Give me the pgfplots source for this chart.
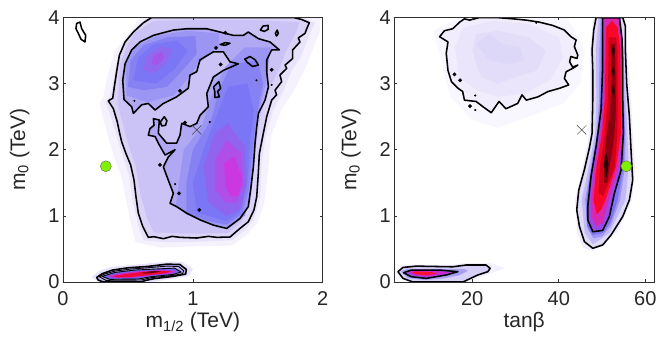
\documentclass[border=0pt]{standalone}
\usepackage{pgfplots}
\usepackage{pgfplotstable}
\pgfplotsset{compat=1.18}
\usepackage{fontspec}
\setmainfont{Liberation Sans}
\definecolor{framec}{HTML}{303030}
\definecolor{green0}{HTML}{80F000}

\pgfplotstableread{
x y
0.683 4.0
0.619 3.92
0.542 3.78
0.478 3.63
0.434 3.43
0.413 3.18
0.395 2.95
0.383 2.78
0.349 2.74
0.388 2.62
0.418 2.42
0.434 2.27
0.452 2.12
0.485 1.94
0.521 1.77
0.547 1.54
0.562 1.29
0.580 1.04
0.614 0.84
0.657 0.675
0.700 0.685
0.773 0.655
0.840 0.69
0.901 0.675
1.030 0.665
1.120 0.69
1.184 0.675
1.286 0.68
1.363 0.81
1.427 0.91
1.471 1.09
1.492 1.29
1.504 1.64
1.512 1.94
1.543 2.25
1.569 2.50
1.607 2.75
1.645 2.83
1.633 2.90
1.684 3.03
1.671 3.13
1.723 3.23
1.710 3.28
1.769 3.38
1.769 3.51
1.825 3.63
1.812 3.69
1.864 3.76
1.877 3.83
1.897 3.92
1.838 3.97
1.774 4.0
}\LOuter
\pgfplotstableread{
x y
0.470 2.76
0.460 3.05
0.478 3.30
0.529 3.51
0.593 3.63
0.696 3.73
0.850 3.81
0.953 3.83
1.107 3.83
1.209 3.78
1.312 3.73
1.389 3.73
1.427 3.78
1.505 3.68
1.594 3.63
1.666 3.51
1.607 3.51
1.569 3.36
1.569 3.18
1.582 2.95
1.556 2.75
1.505 2.55
1.492 2.35
1.479 2.10
1.466 1.74
1.445 1.39
1.427 1.14
1.363 0.96
1.261 0.81
1.158 0.86
1.055 0.94
0.953 1.04
0.875 1.14
0.824 1.19
0.850 1.34
0.811 1.54
0.773 1.74
0.811 1.89
0.863 2.0
0.786 1.92
0.734 2.10
0.709 2.20
0.657 2.22
0.670 2.32
0.701 2.37
0.696 2.47
0.742 2.45
0.734 2.25
0.798 2.10
0.875 2.10
0.901 2.22
0.914 2.40
0.978 2.35
1.030 2.40
1.055 2.52
1.119 2.65
1.107 2.85
1.158 3.10
1.235 3.20
1.350 3.30
1.286 3.33
1.235 3.48
1.158 3.48
1.055 3.36
1.030 3.18
0.978 3.13
0.965 2.93
0.875 2.80
0.773 2.70
0.709 2.60
0.657 2.70
0.606 2.68
0.542 2.55
0.529 2.65
}\LInner
\pgfplotstableread{
x y
0.26 0.07
0.30 0.125
0.38 0.18
0.50 0.215
0.65 0.235
0.80 0.27
0.90 0.265
0.95 0.19
0.945 0.12
0.85 0.085
0.70 0.05
0.63 0.02
0.60 0
0.31 0
0.27 0.03
}\LBlobA
\pgfplotstableread{
x y
0.28 0.08
0.32 0.12
0.40 0.165
0.52 0.195
0.65 0.215
0.80 0.24
0.89 0.235
0.93 0.17
0.92 0.125
0.85 0.10
0.68 0.065
0.60 0.03
0.33 0.025
}\LBlobB
\pgfplotstableread{
x y
0.30 0.085
0.40 0.145
0.55 0.18
0.70 0.195
0.86 0.21
0.91 0.15
0.85 0.115
0.68 0.08
0.58 0.045
0.36 0.04
}\LBlobC
\pgfplotstableread{
x y
12.46 3.71
13.6 3.80
15.5 3.83
17.1 3.93
18.2 3.98
19.4 3.96
21.7 4
25.5 4
29.4 3.98
32.5 3.96
35.5 3.93
38.6 3.88
41.3 3.81
42.8 3.71
44 3.66
43.6 3.56
44.4 3.43
44.2 3.38
42.8 3.41
42.5 3.33
43.2 3.25
44.4 3.28
43.2 3.23
41.7 3.18
41.3 3.08
42.3 2.98
40.2 2.93
37.5 2.88
35.2 2.80
32.5 2.75
31.5 2.83
30.5 2.70
27.8 2.62
26.2 2.73
24.4 2.56
22.5 2.65
20.9 2.73
18.2 2.75
17.8 2.88
16.7 2.93
15.2 3.03
14.4 3.2
14 3.46
14.4 3.63
}\RPale
\pgfplotstableread{
x y
48.62 4
48.08 3.81
47.69 3.51
47.85 3.2
47.85 2.75
47.69 2.25
47.08 2.03
45.92 1.7
44.62 1.39
44.15 1.09
44.77 0.84
45.92 0.61
47.85 0.51
50.15 0.56
52.08 0.71
54.77 0.99
56.31 1.24
57.08 1.54
56.69 2.0
56.31 2.5
55.69 3.0
55.38 3.51
55.38 3.87
54.77 4
}\ROuter
\pgfplotstableread{
x y
50.15 4
50.15 3.76
50.15 3.26
49.77 2.6
48.62 2.05
47.46 1.6
46.69 1.14
46.69 0.94
47.85 0.76
50.15 0.78
51.69 0.99
52.85 1.34
54.38 1.69
54.92 2.25
54.77 2.75
54.77 3.26
54.62 3.67
54 4
}\RInner
\pgfplotstableread{
x y
2.85 0.156
4.0 0.22
7.08 0.24
15.5 0.23
18.6 0.257
23.2 0.257
24.15 0.207
23.6 0.156
21.3 0.106
17.85 0
6.3 0
4.0 0.055
}\RBlobA
\pgfplotstableread{
x y
4.15 0.14
5.9 0.18
12.5 0.18
16.7 0.156
14 0.106
9.4 0.055
5.9 0.08
}\RBlobB

\pgfplotsset{
  panel/.style={
    scale only axis, width=259.7pt, height=264.5pt, anchor=south west,
    axis on top, ymin=0, ymax=4, ytick={0,1,2,3,4},
    tick align=inside, major tick length=3pt,
    axis line style={framec, line width=0.8pt},
    tick style={framec, line width=0.6pt},
    every tick label/.append style={font=\fontsize{20}{23}\selectfont, text=black!85},
    /pgf/number format/assume math mode=true,
    label style={font=\fontsize{21}{24}\selectfont, text=black!85},
    xtick pos=both, ytick pos=both,
    xticklabel pos=bottom, yticklabel pos=left,
    xticklabel style={yshift=-6pt},
    ylabel style={yshift=12pt},
    xlabel style={yshift=0pt},
    ylabel={m\textsubscript{0} (TeV)},
  },
  lay/.code={\definecolor{tmpc}{RGB}{#1}\pgfkeysalso{fill=tmpc, draw=none, forget plot}},
  cont/.style={draw=black, line width=1.55pt, fill=none, line join=round, forget plot},
  cross/.style={only marks, mark=x, mark size=6.5pt, mark options={draw=black!75, line width=0.5pt}, forget plot},
  green/.style={only marks, mark=*, mark size=5.5pt, mark options={fill=green0, draw=black!60, line width=0.4pt}, forget plot},
  dots/.style={only marks, mark=*, mark size=#1, mark options={fill=black, draw=none}, forget plot},
}

\begin{document}
\begin{tikzpicture}[x=1pt,y=1pt]
\path[use as bounding box] (0,0) rectangle (664,344);
% ---------- left ----------
\begin{axis}[panel, at={(63pt,62pt)}, xmin=0, xmax=2, xtick={0,1,2},
  xlabel={m\textsubscript{1/2} (TeV)}]
\addplot[lay={245,242,253}] coordinates {(0.60,4.0)(0.50,3.75)(0.40,3.5)(0.34,3.1)(0.31,2.8)(0.28,2.7)(0.32,2.4)(0.36,2.1)(0.40,1.85)(0.45,1.6)(0.49,1.2)(0.52,0.9)(0.56,0.6)(0.75,0.52)(1.0,0.54)(1.3,0.55)(1.42,0.72)(1.50,0.9)(1.55,1.2)(1.58,1.7)(1.60,2.2)(1.68,2.6)(1.78,2.9)(1.86,3.2)(1.92,3.5)(1.98,3.8)(1.98,4.0)} --cycle;
\addplot[lay={232,226,250}] coordinates {(0.65,4)(0.58,3.88)(0.50,3.72)(0.45,3.55)(0.41,3.3)(0.38,2.95)(0.36,2.8)(0.33,2.72)(0.36,2.55)(0.40,2.3)(0.43,2.1)(0.47,1.85)(0.51,1.6)(0.54,1.2)(0.58,0.85)(0.62,0.63)(0.8,0.6)(1.05,0.61)(1.3,0.63)(1.40,0.78)(1.47,0.95)(1.52,1.3)(1.53,1.8)(1.56,2.2)(1.62,2.6)(1.70,2.9)(1.76,3.2)(1.83,3.4)(1.89,3.7)(1.94,3.92)(1.85,4.0)} --cycle;
\addplot[lay={218,210,247}] table {\LOuter} --cycle;
\addplot[lay={203,194,245}] coordinates {(0.70,3.95)(0.56,3.78)(0.50,3.6)(0.44,3.3)(0.43,2.95)(0.42,2.7)(0.46,2.4)(0.50,2.1)(0.56,1.75)(0.60,1.3)(0.65,0.95)(0.70,0.75)(1.0,0.73)(1.27,0.74)(1.37,0.9)(1.44,1.2)(1.47,1.7)(1.49,2.1)(1.52,2.5)(1.58,2.9)(1.66,3.2)(1.72,3.5)(1.80,3.8)(1.82,3.93)(1.5,3.96)(1.0,3.96)} --cycle;
\addplot[lay={176,168,243}] table {\LInner} --cycle;
% upper lobe
\addplot[lay={155,150,243}] coordinates {(0.49,2.82)(0.48,3.28)(0.55,3.55)(0.72,3.72)(0.95,3.8)(1.2,3.76)(1.2,3.55)(1.04,3.3)(0.95,3.05)(0.85,2.82)(0.65,2.72)} --cycle;
\addplot[lay={135,130,244}] coordinates {(0.50,2.95)(0.52,3.35)(0.62,3.58)(0.80,3.7)(1.02,3.72)(1.03,3.45)(0.92,3.2)(0.8,2.95)(0.62,2.9)} --cycle;
\addplot[lay={122,118,245}] coordinates {(0.54,3.05)(0.58,3.4)(0.70,3.6)(0.88,3.65)(0.96,3.5)(0.86,3.22)(0.72,3.0)} --cycle;
\addplot[lay={145,105,240}] coordinates {(0.62,3.2)(0.64,3.42)(0.75,3.56)(0.84,3.52)(0.80,3.32)(0.70,3.15)} --cycle;
\addplot[lay={165,85,235}] coordinates {(0.68,3.3)(0.70,3.42)(0.76,3.48)(0.78,3.38)(0.72,3.28)} --cycle;
% lower lobe
\addplot[lay={155,150,243}] coordinates {(0.87,1.15)(0.90,1.6)(0.93,2.0)(1.07,2.35)(1.14,2.8)(1.25,3.25)(1.4,3.55)(1.6,3.55)(1.56,3.0)(1.5,2.5)(1.48,2.0)(1.45,1.4)(1.40,1.0)(1.27,0.83)(1.1,0.9)(0.95,1.02)} --cycle;
\addplot[lay={135,130,244}] coordinates {(0.95,1.05)(0.95,1.5)(1.0,2.0)(1.14,2.45)(1.2,2.9)(1.3,3.3)(1.5,3.35)(1.54,3.0)(1.49,2.5)(1.46,2.0)(1.43,1.4)(1.38,1.03)(1.26,0.87)(1.1,0.93)} --cycle;
\addplot[lay={122,118,245}] coordinates {(1.03,1.05)(1.0,1.5)(1.08,2.0)(1.18,2.5)(1.27,2.95)(1.42,3.0)(1.47,2.6)(1.44,2.1)(1.42,1.5)(1.36,1.05)(1.26,0.92)} --cycle;
\addplot[lay={145,100,240}] coordinates {(1.12,1.2)(1.08,1.75)(1.17,2.25)(1.27,2.4)(1.40,2.05)(1.415,1.5)(1.37,1.1)(1.26,1.0)} --cycle;
\addplot[lay={175,78,232}] coordinates {(1.17,1.4)(1.17,1.85)(1.26,2.15)(1.37,1.95)(1.395,1.5)(1.34,1.2)(1.25,1.2)} --cycle;
\addplot[lay={204,56,224}] coordinates {(1.25,1.45)(1.24,1.8)(1.32,1.9)(1.38,1.55)(1.35,1.3)(1.29,1.3)} --cycle;
% bottom blob
\addplot[lay={232,226,250}] coordinates {(0.22,0.07)(0.28,0.17)(0.38,0.23)(0.65,0.28)(0.82,0.31)(0.92,0.3)(1.0,0.2)(0.97,0.09)(0.75,0.02)(0.68,0)(0.28,0)} --cycle;
\addplot[lay={190,180,245}] table {\LBlobA} --cycle;
\addplot[lay={110,100,240}] table {\LBlobC} --cycle;
\addplot[lay={200,48,208}] coordinates {(0.34,0.09)(0.45,0.135)(0.60,0.165)(0.75,0.18)(0.87,0.17)(0.85,0.13)(0.68,0.10)(0.55,0.065)(0.38,0.06)} --cycle;
\addplot[lay={240,8,56}] coordinates {(0.38,0.09)(0.50,0.125)(0.62,0.155)(0.75,0.17)(0.84,0.16)(0.78,0.13)(0.64,0.10)(0.52,0.075)(0.42,0.07)} --cycle;
\addplot[lay={150,0,16}] coordinates {(0.60,0.14)(0.68,0.165)(0.76,0.16)(0.70,0.135)(0.62,0.125)} --cycle;
\addplot[lay={20,0,4}] coordinates {(0.65,0.15)(0.70,0.16)(0.74,0.155)(0.69,0.145)} --cycle;
% contours
\addplot[cont] table {\LOuter} --cycle;
\addplot[cont] table {\LInner} --cycle;
\addplot[cont] table {\LBlobA} --cycle;
\addplot[cont, line width=0.9pt] table {\LBlobB} --cycle;
\addplot[cont, line width=0.9pt] table {\LBlobC} --cycle;
\addplot[cont] coordinates {(0.105,3.91)(0.131,3.93)(0.144,3.83)(0.175,3.73)(0.169,3.63)(0.139,3.67)(0.118,3.76)(0.10,3.83)} --cycle;
\addplot[cont] coordinates {(1.52,3.81)(1.54,3.87)(1.58,3.88)(1.58,3.82)(1.55,3.79)} --cycle;
\addplot[cont] coordinates {(1.635,3.76)(1.65,3.81)(1.658,3.76)(1.645,3.72)} --cycle;
\addplot[cont] coordinates {(1.21,3.59)(1.25,3.62)(1.286,3.61)(1.25,3.58)} --cycle;
\addplot[cont] coordinates {(1.40,3.37)(1.44,3.41)(1.48,3.36)(1.505,3.28)(1.46,3.26)(1.42,3.32)} --cycle;
\addplot[cont] coordinates {(1.16,2.95)(1.2,3.03)(1.214,2.93)(1.19,2.88)(1.205,2.80)(1.17,2.79)(1.17,2.87)} --cycle;
\addplot[cont] coordinates {(0.75,2.42)(0.78,2.5)(0.80,2.44)(0.79,2.37)(0.76,2.36)} --cycle;
\addplot[dots=1.7pt] coordinates {(1.25,3.77)(1.178,3.54)(1.214,3.29)(0.901,2.89)(1.607,3.21)(0.94,2.41)(0.747,1.77)(0.893,1.34)(1.05,1.09)};
\addplot[dots=0.8pt] coordinates {(0.55,2.74)(1.49,3.05)(1.607,2.98)(1.13,2.42)(0.863,1.48)};
\addplot[cross] coordinates {(1.03,2.3)};
\addplot[green] coordinates {(0.33,1.75)};
\end{axis}
% ---------- right ----------
\begin{axis}[panel, at={(394.3pt,62pt)}, xmin=2, xmax=62, xtick={20,40,60},
  xlabel={tanβ}]
\addplot[lay={248,246,254}] coordinates {(11,3.8)(17,4)(42,4)(46,3.5)(45,3)(41,2.7)(33,2.5)(26,2.33)(20,2.45)(15,2.8)(13,3.3)} --cycle;
\addplot[lay={241,237,252}] table {\RPale} --cycle;
\addplot[lay={234,229,251}] coordinates {(16,3.55)(18,3.85)(25,3.95)(33,3.9)(40,3.7)(41,3.4)(38,3.05)(32,2.85)(26,2.8)(21,2.9)(17,3.1)} --cycle;
\addplot[lay={227,221,249}] coordinates {(20,3.5)(21,3.75)(26,3.8)(33,3.7)(37,3.5)(35,3.2)(30,3.1)(26,3.0)(22,3.1)} --cycle;
\addplot[lay={221,215,248}] coordinates {(21,3.6)(24,3.75)(27,3.6)(31,3.55)(32,3.35)(28,3.3)(24,3.35)} --cycle;
% ridge
\addplot[lay={240,236,253}] coordinates {(48,4)(47.23,3.51)(47.31,2.75)(47.08,2.25)(45.54,1.74)(43.77,1.24)(44.31,0.74)(45.5,0.52)(47.85,0.47)(50,0.55)(52,0.72)(53.38,0.74)(56.92,1.24)(57.62,1.74)(57.08,2.25)(56.69,2.75)(55.85,3.51)(55.38,4)} --cycle;
\addplot[lay={224,218,249}] table {\ROuter} --cycle;
\addplot[lay={194,186,246}] coordinates {(49.23,4)(48.54,3.51)(48.69,2.75)(48.38,2.25)(46.92,1.74)(45.31,1.24)(46.0,0.74)(47.85,0.57)(49.5,0.64)(51.69,0.74)(55.38,1.24)(56.15,1.74)(55.85,2.25)(55.54,2.75)(54.92,3.51)(54.31,4)} --cycle;
\addplot[lay={159,149,244}] coordinates {(49.69,4)(49.38,3.51)(49.31,2.75)(48.77,2.25)(47.38,1.74)(46.08,1.24)(46.7,0.8)(48,0.66)(50,0.69)(52,0.85)(54.15,1.24)(55.31,1.74)(55.38,2.25)(55.15,2.75)(54.85,3.51)(54.15,4)} --cycle;
\addplot[lay={126,116,242}] coordinates {(49.95,4)(49.8,3.51)(49.6,2.75)(49.0,2.25)(47.6,1.74)(46.4,1.24)(46.5,0.85)(47.8,0.71)(50.2,0.74)(52,0.9)(53.6,1.24)(55,1.74)(55.2,2.25)(55,2.75)(54.9,3.51)(54.2,4)} --cycle;
\addplot[lay={154,72,230}] table {\RInner} --cycle;
\addplot[lay={216,40,176}] coordinates {(50.54,4)(50.54,3.51)(50.31,2.75)(49.62,2.25)(48.31,1.74)(47.38,1.24)(47.6,0.98)(48.6,0.84)(50.2,0.9)(51.5,1.24)(53.85,1.74)(54.69,2.25)(54.6,2.75)(54.69,3.51)(53.85,4)} --cycle;
\addplot[lay={248,8,40}] coordinates {(50.92,3.85)(50.85,3.51)(50.62,2.75)(50,2.25)(48.69,1.74)(48,1.24)(48.8,1.02)(49.8,1.1)(50.8,1.24)(53.2,1.74)(54.38,2.25)(54.31,2.75)(54.23,3.51)(53.6,3.85)(52.3,3.95)} --cycle;
\addplot[lay={208,0,24}] coordinates {(51.54,3.7)(51.54,3.51)(51.31,2.75)(50.62,2.25)(49.54,1.74)(49.2,1.35)(50.3,1.3)(51.2,1.45)(52.92,1.74)(53.54,2.25)(53.62,2.75)(53.54,3.51)(53.23,3.7)} --cycle;
\addplot[lay={138,0,16}] coordinates {(52.05,3.6)(52.1,3.0)(51.9,2.6)(51,2.2)(50.4,1.8)(50.5,1.5)(51.2,1.5)(52,1.85)(52.8,2.2)(53.2,2.6)(53.1,3.2)(53,3.6)} --cycle;
\addplot[lay={58,0,8}] coordinates {(52.2,3.5)(52.6,3.6)(53,3.5)(52.6,3.38)} --cycle;
\addplot[lay={58,0,8}] coordinates {(52.2,3.18)(52.6,3.28)(53,3.18)(52.6,3.08)} --cycle;
\addplot[lay={58,0,8}] coordinates {(52.2,2.9)(52.6,3.0)(53,2.88)(52.6,2.78)} --cycle;
\addplot[lay={40,0,8}] coordinates {(50.4,1.78)(51,1.95)(51.5,1.78)(51,1.58)} --cycle;
% bottom blob
\addplot[lay={243,240,253}] coordinates {(2.3,0.15)(3.8,0.26)(15,0.26)(18.5,0.29)(24,0.29)(27.5,0.21)(24,0.12)(19,0.0)(5.5,0)(3.2,0.05)} --cycle;
\addplot[lay={215,208,248}] table {\RBlobA} --cycle;
\addplot[lay={168,160,242}] coordinates {(3.5,0.16)(5,0.2)(14,0.2)(18,0.2)(19,0.17)(17,0.1)(13,0.05)(9,0.03)(5,0.06)} --cycle;
\addplot[lay={122,112,240}] table {\RBlobB} --cycle;
\addplot[lay={200,40,208}] coordinates {(5,0.15)(6,0.165)(12,0.165)(15.5,0.15)(13,0.11)(9.4,0.075)(6.2,0.1)} --cycle;
\addplot[lay={255,16,48}] coordinates {(6,0.15)(7,0.16)(10.5,0.15)(12,0.13)(9.5,0.10)(7,0.115)} --cycle;
% contours
\addplot[cont] table {\RPale} --cycle;
\addplot[cont] table {\ROuter} --cycle;
\addplot[cont] table {\RInner} --cycle;
\addplot[cont] table {\RBlobA} --cycle;
\addplot[cont] table {\RBlobB} --cycle;
\addplot[dots=1.7pt] coordinates {(15.9,3.14)(17.2,3.05)(19.5,2.66)};
\addplot[dots=0.8pt] coordinates {(20.7,2.82)(20.7,2.6)(34.8,3.92)};
\addplot[cross] coordinates {(45.3,2.3)};
\addplot[green] coordinates {(55.6,1.75)};
\end{axis}
\end{tikzpicture}
\end{document}
